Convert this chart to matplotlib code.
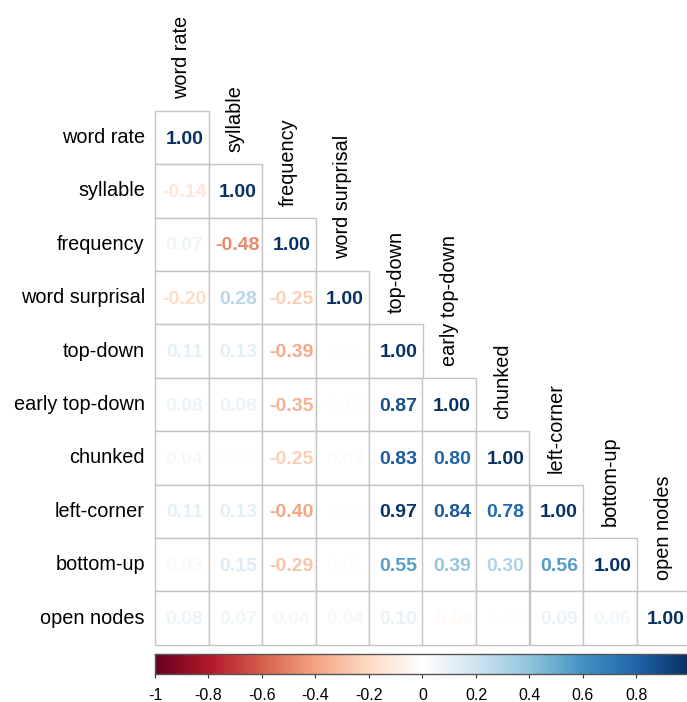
import matplotlib
matplotlib.use('Agg')
import matplotlib.pyplot as plt
import numpy as np
from matplotlib.colors import LinearSegmentedColormap
from matplotlib.patches import Rectangle

plt.rcParams['font.family'] = ['Liberation Sans', 'DejaVu Sans']

labels = ['word rate', 'syllable', 'frequency', 'word surprisal', 'top-down',
          'early top-down', 'chunked', 'left-corner', 'bottom-up', 'open nodes']

# lower triangle, row by row (diagonal included)
corr_rows = [
    [1.00],
    [-0.14, 1.00],
    [0.07, -0.48, 1.00],
    [-0.20, 0.28, -0.25, 1.00],
    [0.11, 0.13, -0.39, 0.01, 1.00],
    [0.08, 0.08, -0.35, -0.02, 0.87, 1.00],
    [0.04, 0.01, -0.25, 0.02, 0.83, 0.80, 1.00],
    [0.11, 0.13, -0.40, 0.00, 0.97, 0.84, 0.78, 1.00],
    [0.03, 0.15, -0.29, 0.01, 0.55, 0.39, 0.30, 0.56, 1.00],
    [0.08, 0.07, 0.04, 0.04, 0.10, -0.04, 0.00, 0.09, 0.06, 1.00],
]

cbar_ticks = [-1, -0.8, -0.6, -0.4, -0.2, 0, 0.2, 0.4, 0.6, 0.8, 1]
cbar_labels = ['-1', '-0.8', '-0.6', '-0.4', '-0.2', '0', '0.2', '0.4', '0.6', '0.8', '1']

# corrplot RdBu palette (white centre)
cols = ["#67001F", "#B2182B", "#D6604D", "#F4A582", "#FDDBC7", "#FFFFFF",
        "#D1E5F0", "#92C5DE", "#4393C3", "#2166AC", "#053061"]
cmap = LinearSegmentedColormap.from_list('corrRdBu', cols, N=200)

def to_col(v):
    return cmap((v + 1) / 2)

W, H = 687, 702
fig = plt.figure(figsize=(W / 100, H / 100), dpi=100)

n = len(labels)
x0, y0, cw, ch = 155, 110.7, 53.5, 53.4
ax = fig.add_axes([x0 / W, 1 - (y0 + n * ch) / H, n * cw / W, n * ch / H])
ax.set_xlim(0, n)
ax.set_ylim(n, 0)
ax.axis('off')

grid_col = '#c4c4c4'
for i, row in enumerate(corr_rows):
    for j, v in enumerate(row):
        ax.add_patch(Rectangle((j, i), 1, 1, facecolor='white', edgecolor=grid_col,
                               linewidth=1.0, clip_on=False))
        ax.text(j + 0.55, i + 0.53, '%.2f' % (v + 0.0), ha='center', va='center',
                fontsize=14, fontweight='bold', color=to_col(v), clip_on=False)

for i, lab in enumerate(labels):
    ax.text(-0.19, i + 0.5, lab, ha='right', va='center', fontsize=14.3, color='black')
    ax.text(i + 0.5, i - 0.22, lab, ha='center', va='bottom', rotation=90,
            fontsize=14.3, color='black')

# colour legend
cax = fig.add_axes([x0 / W, 1 - 673.5 / H, n * cw / W, 19.5 / H])
grad = np.linspace(-1, 1, 400).reshape(1, -1)
cax.imshow(grad, cmap=cmap, vmin=-1, vmax=1, aspect='auto', extent=(-1, 1, 0, 1))
cax.set_xlim(-1, 1)
cax.set_yticks([])
cax.set_xticks(cbar_ticks)
cax.set_xticklabels(cbar_labels, fontsize=11.5)
cax.tick_params(axis='x', direction='out', length=2.6, width=0.8, pad=7.5, colors='#333333',
                labelcolor='black')
for s in cax.spines.values():
    s.set_color('#555555')
    s.set_linewidth(1.0)

fig.savefig('out.png', dpi=100)
